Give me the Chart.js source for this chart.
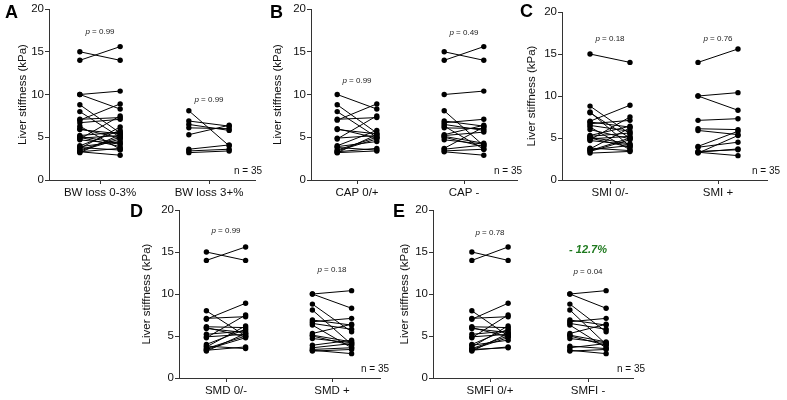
<!DOCTYPE html>
<html>
<head>
<meta charset="utf-8">
<script src="https://cdn.jsdelivr.net/npm/chart.js@4.4.0/dist/chart.umd.min.js"></script>
<style>
  body { margin: 0; width: 787px; height: 400px; background: #fff; position: relative; overflow: hidden; }
  canvas { position: absolute; }
  .letter { position: absolute; font: bold 18px "Liberation Sans", Arial, sans-serif; line-height: 18px; color: #000; }
</style>
</head>
<body>
<script>
// liver stiffness (kPa) per patient, before and after
const baseline = [15.0, 14.0, 10.0, 10.0, 8.8, 8.1, 8.0, 7.0, 7.1, 6.9, 6.7, 6.5, 6.3, 6.1, 6.0, 5.9, 5.3, 5.2,
                  5.1, 5.0, 4.9, 4.8, 4.0, 3.9, 3.8, 3.7, 3.6, 3.5, 3.4, 3.4, 3.3, 3.3, 3.2, 3.2, 4.7];
const followUp = [14.0, 15.6, 10.4, 8.3, 5.5, 4.0, 5.0, 8.9, 7.3, 6.3, 7.1, 5.8, 3.6, 6.0, 4.9, 5.4, 6.4, 5.6,
                  4.3, 3.9, 5.2, 7.5, 5.8, 4.5, 3.5, 6.2, 4.1, 5.0, 3.6, 4.8, 3.7, 2.9, 3.4, 5.3, 4.2];

// patients (index) falling in the second category of each panel
const bwLossHigh = [5, 9, 11, 13, 16, 26, 28, 32];
const capMinus = [0, 1, 2, 5, 9, 10, 11, 12, 13, 16, 17, 18, 19, 25, 26, 28, 31, 34];
const smiPlus = [1, 2, 3, 8, 13, 15, 22, 23, 28, 30, 31, 33];
const smdPlus = [2, 3, 4, 5, 9, 10, 11, 12, 16, 18, 19, 23, 26, 28, 31, 32, 34];
const smfiMinus = [2, 3, 4, 5, 9, 10, 11, 12, 16, 18, 19, 24, 26, 31, 32, 34];

const bwLabels = ['BW loss 0-3%', 'BW loss 3+%'];
const capLabels = ['CAP 0/+', 'CAP -'];
const smiLabels = ['SMI 0/-', 'SMI +'];
const smdLabels = ['SMD 0/-', 'SMD +'];
const smfiLabels = ['SMFI 0/+', 'SMFI -'];

const bwP = ['0.99', '0.99'];
const capP = ['0.99', '0.49'];
const smiP = ['0.18', '0.76'];
const smdP = ['0.99', '0.18'];
const smfiP = ['0.78', '0.04'];
const smfiChange = '- 12.7%';

const yTicks = [0, 5, 10, 15, 20];
const sampleN = 35;

// layout of each panel (pixels) + where the p text sits (kPa)
const panels = [
  { letter: 'A', labels: bwLabels, second: bwLossHigh, p: bwP, pY: [17.3, 9.4],
    L: 49, R: 255, T: 9, B: 180, c1: 100, c2: 209, titleGap: 26, nRight: 262, lx: 5, ly: 3 },
  { letter: 'B', labels: capLabels, second: capMinus, p: capP, pY: [11.6, 17.2],
    L: 311, R: 517, T: 9, B: 180, c1: 357, c2: 464, titleGap: 33, nRight: 522, lx: 270, ly: 3 },
  { letter: 'C', labels: smiLabels, second: smiPlus, p: smiP, pY: [16.8, 16.8],
    L: 562, R: 767, T: 12, B: 180, c1: 610, c2: 718, titleGap: 30, nRight: 780, lx: 520, ly: 2 },
  { letter: 'D', labels: smdLabels, second: smdPlus, p: smdP, pY: [17.5, 12.9],
    L: 179, R: 380, T: 210, B: 378, c1: 226, c2: 332, titleGap: 32, nRight: 389, lx: 130, ly: 202 },
  { letter: 'E', labels: smfiLabels, second: smfiMinus, p: smfiP, pY: [17.3, 12.6], change: smfiChange, changeY: 15.2,
    L: 433, R: 633, T: 210, B: 378, c1: 490, c2: 588, titleGap: 28, nRight: 645, lx: 393, ly: 202 }
];

const FONT = '"Liberation Sans", Arial, sans-serif';
const AXIS = '#333';
const spread = 0.37; // half distance between paired points, in category units

function drawPanel(pn) {
  let padTop = 10, padRight = 16, xH = 28;
  let yW = Math.round(pn.titleGap + 7);

  let canvas = document.createElement('canvas');
  let w = pn.R - (pn.L - yW) + padRight;
  let h = padTop + (pn.B - pn.T) + xH;
  canvas.width = w;
  canvas.height = h;
  canvas.style.left = (pn.L - yW) + 'px';
  canvas.style.top = (pn.T - padTop) + 'px';
  canvas.style.width = w + 'px';
  canvas.style.height = h + 'px';
  document.body.appendChild(canvas);

  let letter = document.createElement('div');
  letter.className = 'letter';
  letter.textContent = pn.letter;
  letter.style.left = pn.lx + 'px';
  letter.style.top = pn.ly + 'px';
  document.body.appendChild(letter);

  // categories at x = 1 and x = 3
  let u = 2 / (pn.c2 - pn.c1);
  let xMin = 1 - (pn.c1 - pn.L) * u;
  let xMax = 3 + (pn.R - pn.c2) * u;

  let datasets = [];
  baseline.forEach(function(pre, i) {
    let cat = pn.second.includes(i) ? 3 : 1;
    datasets.push({
      data: [{ x: cat - spread, y: pre }, { x: cat + spread, y: followUp[i] }],
      showLine: true,
      borderColor: '#000',
      borderWidth: 1,
      pointRadius: 2.7,
      pointBackgroundColor: '#000',
      pointBorderWidth: 0
    });
  });

  let notes = {
    id: 'notes',
    afterDraw: function(chart) {
      let ctx = chart.ctx;
      let xs = chart.scales.x, ys = chart.scales.y;
      ctx.save();
      ctx.fillStyle = '#222';
      ctx.textBaseline = 'middle';
      [1, 3].forEach(function(cat, k) {
        let cx = xs.getPixelForValue(cat);
        let cy = ys.getPixelForValue(pn.pY[k]);
        ctx.font = 'italic 8px ' + FONT;
        let pw = ctx.measureText('p').width;
        ctx.font = '8px ' + FONT;
        let rest = ' = ' + pn.p[k];
        let rw = ctx.measureText(rest).width;
        let x0 = cx - (pw + rw) / 2;
        ctx.textAlign = 'left';
        ctx.font = 'italic 8px ' + FONT;
        ctx.fillText('p', x0, cy);
        ctx.font = '8px ' + FONT;
        ctx.fillText(rest, x0 + pw, cy);
      });
      if (pn.change) {
        ctx.fillStyle = '#1f7a1f';
        ctx.font = 'italic bold 11px ' + FONT;
        ctx.textAlign = 'center';
        ctx.fillText(pn.change, xs.getPixelForValue(3), ys.getPixelForValue(pn.changeY));
      }
      ctx.fillStyle = '#111';
      ctx.font = '10px ' + FONT;
      ctx.textAlign = 'right';
      ctx.fillText('n = ' + sampleN, pn.nRight - (pn.L - yW), chart.chartArea.bottom - 9);
      ctx.restore();
    }
  };

  new Chart(canvas, {
    type: 'scatter',
    data: { datasets: datasets },
    plugins: [notes],
    options: {
      responsive: false,
      animation: false,
      layout: { padding: { top: padTop, right: padRight, left: 0, bottom: 0 } },
      plugins: { legend: { display: false }, tooltip: { enabled: false } },
      scales: {
        x: {
          type: 'linear',
          min: xMin,
          max: xMax,
          afterBuildTicks: function(scale) { scale.ticks = [{ value: 1 }, { value: 3 }]; },
          afterFit: function(scale) { scale.height = xH; },
          ticks: {
            color: '#111',
            font: { family: FONT, size: 11.5 },
            padding: 2,
            maxRotation: 0,
            callback: function(v) { return v === 1 ? pn.labels[0] : pn.labels[1]; }
          },
          grid: { drawOnChartArea: false, drawTicks: true, tickLength: 4, color: AXIS },
          border: { display: true, color: AXIS, width: 1 }
        },
        y: {
          min: 0,
          max: 20,
          afterBuildTicks: function(scale) { scale.ticks = yTicks.map(function(v) { return { value: v }; }); },
          afterFit: function(scale) { scale.width = yW; },
          ticks: { color: '#111', font: { family: FONT, size: 11.5 }, padding: 1 },
          grid: { drawOnChartArea: false, drawTicks: true, tickLength: 4, color: AXIS },
          border: { display: true, color: AXIS, width: 1 },
          title: {
            display: true,
            text: 'Liver stiffness (kPa)',
            color: '#111',
            font: { family: FONT, size: 11.5 },
            padding: { top: 0, bottom: 0 }
          }
        }
      }
    }
  });
}

panels.forEach(drawPanel);
</script>
</body>
</html>
